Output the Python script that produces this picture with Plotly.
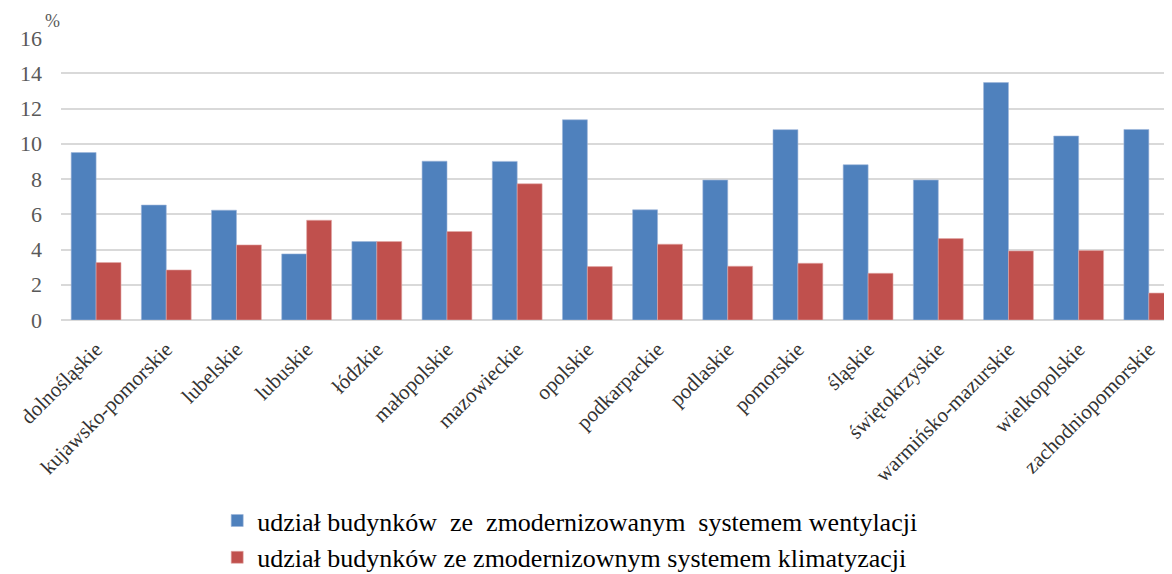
import plotly.graph_objects as go

categories = ["dolnośląskie", "kujawsko-pomorskie", "lubelskie", "lubuskie", "łódzkie",
              "małopolskie", "mazowieckie", "opolskie", "podkarpackie", "podlaskie",
              "pomorskie", "śląskie", "świętokrzyskie", "warmińsko-mazurskie",
              "wielkopolskie", "zachodniopomorskie"]
wentylacja = [9.5, 6.52, 6.23, 3.75, 4.45, 9.01, 9.0, 11.36, 6.25, 7.94,
              10.8, 8.81, 7.94, 13.47, 10.44, 10.81]
klimatyzacja = [3.26, 2.84, 4.26, 5.66, 4.45, 5.02, 7.73, 3.03, 4.3, 3.05,
                3.22, 2.65, 4.62, 3.92, 3.94, 1.53]
name_went = "udział budynków\u00a0\u00a0ze\u00a0\u00a0zmodernizowanym\u00a0\u00a0systemem wentylacji"
name_klim = "udział budynków ze zmodernizownym systemem klimatyzacji"
y_ticks = [0, 2, 4, 6, 8, 10, 12, 14, 16]

FONT = "Liberation Serif"

fig = go.Figure()
fig.add_trace(go.Bar(x=categories, y=wentylacja, name=name_went,
                     marker=dict(color="#4F81BD", line=dict(color="#9DB5DA", width=0.6))))
fig.add_trace(go.Bar(x=categories, y=klimatyzacja, name=name_klim,
                     marker=dict(color="#C0504D", line=dict(color="#E3A9A8", width=0.6))))

fig.update_layout(
    width=1164, height=566,
    margin=dict(l=53, r=0, t=30, b=254, autoexpand=False),
    paper_bgcolor="white", plot_bgcolor="white",
    barmode="group", bargap=0.29, bargroupgap=0,
    font=dict(family=FONT, color="#000000"),
    showlegend=True,
    legend=dict(orientation="v", x=0.1406, xanchor="left", y=-0.628, yanchor="top",
                font=dict(family=FONT, size=26, color="#000000"),
                itemwidth=30, tracegroupgap=0, bgcolor="rgba(0,0,0,0)"),
    xaxis=dict(type="category", range=[-0.5, 15.33], tickangle=-45,
               tickfont=dict(family=FONT, size=21, color="#333333"),
               showgrid=False, showline=False, ticks="", ticklabelstandoff=12),
    yaxis=dict(range=[0, 16], tickvals=y_ticks, showgrid=True, gridcolor="#D9D9D9",
               gridwidth=1.6, zeroline=True, zerolinecolor="#D9D9D9", zerolinewidth=1.6,
               tickfont=dict(family=FONT, size=22, color="#595959"),
               ticks="", ticklabelstandoff=18, showline=False),
    annotations=[dict(text="%", xref="paper", yref="paper", x=-0.008, y=1.06,
                      xanchor="center", yanchor="middle",
                      showarrow=False, font=dict(family=FONT, size=18, color="#595959"))],
)

fig.write_html("out.html")
